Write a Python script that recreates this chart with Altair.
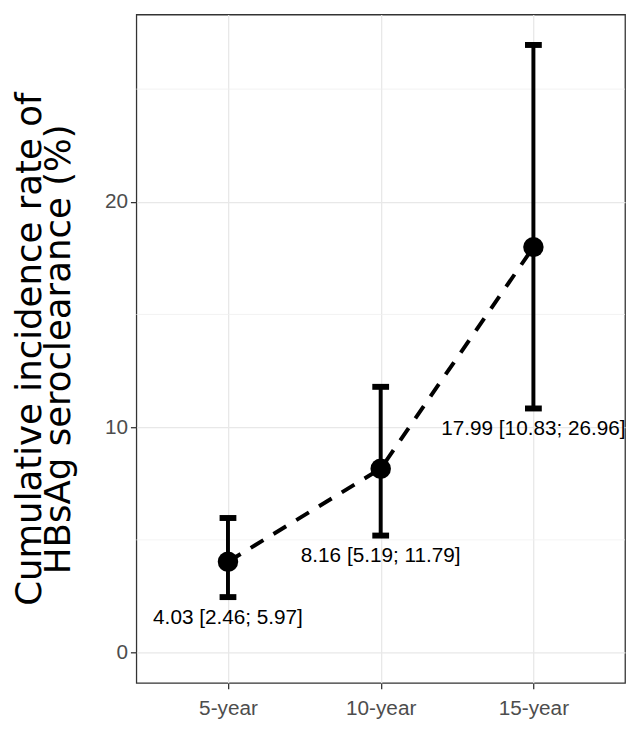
import altair as alt
import pandas as pd

# ---- data ----
periods = ["5-year", "10-year", "15-year"]
estimate = [4.03, 8.16, 17.99]
lower = [2.46, 5.19, 10.83]
upper = [5.97, 11.79, 26.96]
major_ticks = [0, 10, 20]
minor_ticks = [5, 15, 25]
y_title = ["Cumulative incidence rate of", "HBsAg seroclearance (%)"]

labels = [f"{e:.2f} [{l:.2f}; {u:.2f}]" for e, l, u in zip(estimate, lower, upper)]
df = pd.DataFrame({
    "period": periods,
    "idx": list(range(len(periods))),
    "estimate": estimate,
    "lower": lower,
    "upper": upper,
    "label": labels,
})
minor_df = pd.DataFrame({"v": minor_ticks})

FONT = "Liberation Sans, Arial, sans-serif"

xscale = alt.Scale(type="point", domain=periods, padding=0.6)
yscale = alt.Scale(domain=[-1.348, 28.31], nice=False, zero=False)

xaxis = alt.Axis(
    title=None, labelAngle=0, labelFont=FONT, labelFontSize=21,
    labelColor="#4D4D4D", labelPadding=9, tickSize=6, tickColor="#333333",
    tickWidth=1.3, domain=False, grid=True, gridColor="#E8E8E8", gridWidth=1.3,
)
yaxis = alt.Axis(
    values=major_ticks, title=y_title, titleFont="DejaVu Sans", titleFontSize=36,
    titleFontWeight="normal", titleColor="#000000", titleAngle=270,
    titleBaseline="top", titleAlign="center", titleX=-125, titleY=338.5,
    titleLineHeight=29,
    labelFont=FONT, labelFontSize=21, labelColor="#4D4D4D", labelPadding=3,
    tickSize=6, tickColor="#333333", tickWidth=1.3, domain=False,
    grid=True, gridColor="#E8E8E8", gridWidth=1.3,
)

x_enc = alt.X("period:N", scale=xscale, axis=xaxis)

base = alt.Chart(df)

minor = alt.Chart(minor_df).mark_rule(color="#F0F0F0", strokeWidth=0.8).encode(
    y=alt.Y("v:Q", scale=yscale, axis=yaxis)
)

line = base.mark_line(color="black", strokeWidth=4, strokeDash=[15, 12]).encode(
    x=x_enc, y=alt.Y("estimate:Q", scale=yscale, axis=yaxis), order="idx:Q"
)

bars = base.mark_rule(color="black", strokeWidth=4).encode(
    x=x_enc, y=alt.Y("lower:Q", scale=yscale, axis=yaxis), y2="upper:Q"
)

cap_lo = base.mark_tick(color="black", thickness=6, size=17, opacity=1).encode(
    x=x_enc, y=alt.Y("lower:Q", scale=yscale, axis=yaxis)
)
cap_hi = base.mark_tick(color="black", thickness=6, size=17, opacity=1).encode(
    x=x_enc, y=alt.Y("upper:Q", scale=yscale, axis=yaxis)
)

pts = base.mark_circle(color="black", size=430, opacity=1).encode(
    x=x_enc, y=alt.Y("estimate:Q", scale=yscale, axis=yaxis)
)

txt = base.mark_text(
    font=FONT, fontSize=21, color="black", dy=21, baseline="middle", align="center"
).encode(
    x=x_enc, y=alt.Y("lower:Q", scale=yscale, axis=yaxis), text="label:N"
)

chart = alt.layer(minor, line, bars, cap_lo, cap_hi, pts, txt).properties(
    width=495,
    height=677,
    autosize=alt.AutoSizeParams(type="none"),
    padding={"left": 130, "top": 2, "right": 3, "bottom": 38},
    background="white",
).configure_view(
    stroke="#333333", strokeWidth=1.3
)

chart.save("out.html", embed_options={"renderer": "svg", "actions": False})
